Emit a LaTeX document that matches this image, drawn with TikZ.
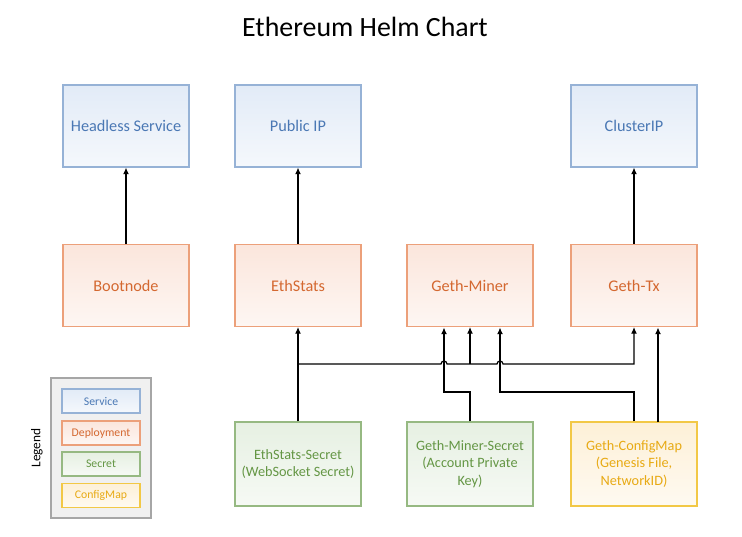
\documentclass[tikz,border=0pt]{standalone}
\usepackage{fontspec}
\setmainfont{Carlito}
\usetikzlibrary{arrows.meta}
\definecolor{svcline}{RGB}{150,178,214}
\definecolor{svctext}{RGB}{74,120,180}
\definecolor{svcfill}{RGB}{226,235,247}
\definecolor{depline}{RGB}{236,160,122}
\definecolor{deptext}{RGB}{212,104,48}
\definecolor{depfill}{RGB}{251,230,220}
\definecolor{secline}{RGB}{150,185,130}
\definecolor{sectext}{RGB}{100,150,68}
\definecolor{secfill}{RGB}{230,240,226}
\definecolor{cfgline}{RGB}{242,200,70}
\definecolor{cfgtext}{RGB}{232,170,20}
\definecolor{cfgfill}{RGB}{253,240,215}
\tikzset{
  box/.style={draw, line width=0.8pt, minimum width=94.5pt, minimum height=61.5pt,
    align=center, font=\fontsize{12.2}{15}\selectfont, inner sep=2pt},
  svc/.style={box, draw=svcline, text=svctext, top color=svcfill, bottom color=svcfill!35!white},
  dep/.style={box, draw=depline, text=deptext, top color=depfill, bottom color=depfill!35!white},
  sec/.style={box, draw=secline, text=sectext, top color=secfill, bottom color=secfill!35!white,
    minimum height=63pt, font=\fontsize{10.7}{13}\selectfont},
  cfg/.style={box, draw=cfgline, text=cfgtext, top color=cfgfill, bottom color=cfgfill!35!white,
    minimum height=63pt, font=\fontsize{10.7}{13}\selectfont},
  key/.style={minimum width=58.5pt, minimum height=18pt, font=\fontsize{8.8}{10}\selectfont},
  arr/.style={line width=0.9pt, -{Latex[length=5pt,width=4.5pt]}}
}
\begin{document}
\begin{tikzpicture}[x=0.75pt, y=-0.75pt]
  \useasboundingbox (0,0) rectangle (742,536);
  \node (title) at (365,27) {\fontsize{20.9}{24}\selectfont Ethereum Helm Chart};
  % services
  \node[svc] (headless) at (126,126) {Headless Service};
  \node[svc] (publicip) at (298,126) {Public IP};
  \node[svc] (clusterip) at (634,126) {ClusterIP};
  % deployments
  \node[dep] (bootnode) at (126,285.5) {Bootnode};
  \node[dep] (ethstats) at (298,285.5) {EthStats};
  \node[dep] (miner) at (470,285.5) {Geth-Miner};
  \node[dep] (gethtx) at (634,285.5) {Geth-Tx};
  % secrets and configmap
  \node[sec] (ethsecret) at (298,464) {EthStats-Secret\\(WebSocket Secret)};
  \node[sec] (minersecret) at (470,464) {Geth-Miner-Secret\\(Account Private\\Key)};
  \node[cfg] (configmap) at (634,464) {Geth-ConfigMap\\(Genesis File,\\NetworkID)};
  % connectors
  \draw[arr] (bootnode) -- (headless);
  \draw[arr] (ethstats) -- (publicip);
  \draw[arr] (gethtx) -- (clusterip);
  \draw[arr] (ethsecret) -- (ethstats);
  \draw[arr] (298,364) -- (441,364) arc[start angle=180, end angle=360, radius=3]
    -- (497,364) arc[start angle=180, end angle=360, radius=3]
    -- (634,364) -- (gethtx.south);
  \draw[arr] (470,364) -- (miner.south);
  \draw[arr] (minersecret.north) |- (444,392) -- (444,327.5);
  \draw[arr] (configmap.north) |- (500,392) -- (500,327.5);
  \draw[arr] (658,422) -- (658,327.5);
  % legend
  \draw[draw=black!35, fill=black!6, line width=0.8pt] (51,378) rectangle (151,518);
  \node[rotate=90, font=\fontsize{10}{12}\selectfont] (legend) at (37,448) {Legend};
  \node[svc, key] (ksvc) at (101,401) {Service};
  \node[dep, key] (kdep) at (101,433) {Deployment};
  \node[sec, key] (ksec) at (101,464) {Secret};
  \node[cfg, key] (kcfg) at (101,495.5) {ConfigMap};
\end{tikzpicture}
\end{document}
